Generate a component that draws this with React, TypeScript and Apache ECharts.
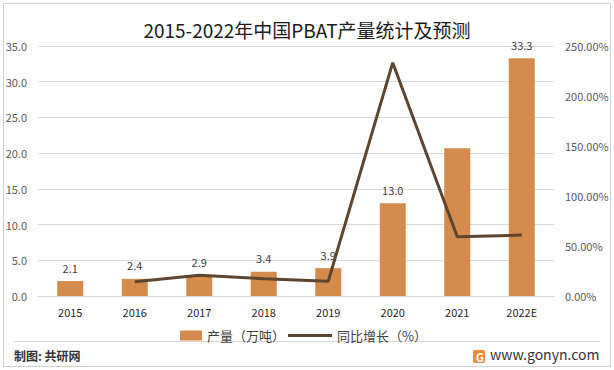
import React, { useEffect, useRef } from "react";
import * as echarts from "echarts";

const categories = ["2015", "2016", "2017", "2018", "2019", "2020", "2021", "2022E"];
const output = [2.1, 2.4, 2.9, 3.4, 3.9, 13.0, 20.7, 33.3];
const growth: (number | string)[] = ["-", 14.3, 20.8, 17.2, 14.7, 233.3, 59.2, 60.9];
const hiddenLabelIndex = [6];
const titleText = "2015-2022年中国PBAT产量统计及预测";
const legendBar = "产量（万吨）";
const legendLine = "同比增长（%）";
const sourceText = "制图: 共研网";
const siteText = "www.gonyn.com";

const FONT = "'Noto Sans CJK SC', 'Noto Sans', sans-serif";
const BAR_COLOR = "#D48B4C";
const LINE_COLOR = "#5E4530";

export default function App() {
  const ref = useRef<HTMLDivElement>(null);
  useEffect(() => {
    document.body.style.margin = "0";
    if (!ref.current) return;
    const chart = echarts.init(ref.current, null, { renderer: "svg" });
    chart.setOption({
      animation: false,
      backgroundColor: "#ffffff",
      textStyle: { fontFamily: FONT },
      title: {
        text: titleText,
        left: "center",
        top: 15,
        textStyle: { fontSize: 19, fontWeight: "normal", color: "#1a1a1a", fontFamily: FONT },
      },
      grid: { left: 38, right: 60, top: 46, bottom: 74 },
      legend: [
        {
          left: 175,
          top: 324,
          textStyle: { fontSize: 13, color: "#404040", fontFamily: FONT },
          data: [{ name: legendBar, icon: "rect", itemStyle: { color: BAR_COLOR } }],
          itemWidth: 22,
          itemHeight: 10,
          itemGap: 4,
        },
        {
          left: 283,
          top: 324,
          textStyle: { fontSize: 13, color: "#404040", fontFamily: FONT },
          data: [{ name: legendLine, icon: "rect", itemStyle: { color: LINE_COLOR } }],
          itemWidth: 44,
          itemHeight: 3,
        },
      ],
      xAxis: {
        type: "category",
        data: categories,
        axisLine: { lineStyle: { color: "#D9D9D9" } },
        axisTick: { show: false },
        axisLabel: { color: "#1f1f1f", fontSize: 11, margin: 10, fontFamily: FONT },
      },
      yAxis: [
        {
          type: "value",
          min: 0,
          max: 35,
          interval: 5,
          axisLine: { show: false },
          axisTick: { show: false },
          splitLine: { lineStyle: { color: "#D9D9D9" } },
          axisLabel: {
            color: "#595959",
            fontSize: 11,
            margin: 11,
            fontFamily: FONT,
            formatter: (v: number) => v.toFixed(1),
          },
        },
        {
          type: "value",
          min: 0,
          max: 250,
          interval: 50,
          axisLine: { show: false },
          axisTick: { show: false },
          splitLine: { show: false },
          axisLabel: {
            color: "#595959",
            fontSize: 11,
            margin: 11,
            fontFamily: FONT,
            formatter: (v: number) => v.toFixed(2) + "%",
          },
        },
      ],
      series: [
        {
          name: legendBar,
          type: "bar",
          barWidth: 26,
          yAxisIndex: 0,
          itemStyle: { color: BAR_COLOR },
          data: output.map((v, i) => ({
            value: v,
            label: { show: !hiddenLabelIndex.includes(i) },
          })),
          label: {
            show: true,
            position: "top",
            distance: 8,
            color: "#404040",
            fontSize: 11,
            fontFamily: FONT,
            formatter: (p: any) => Number(p.value).toFixed(1),
          },
        },
        {
          name: legendLine,
          type: "line",
          yAxisIndex: 1,
          data: growth,
          symbol: "none",
          z: 5,
          lineStyle: { color: LINE_COLOR, width: 3 },
          itemStyle: { color: LINE_COLOR },
        },
      ],
      graphic: [
        {
          type: "rect",
          shape: { x: 3.5, y: 3.5, width: 607, height: 363 },
          style: { fill: "none", stroke: "#D0D0D0", lineWidth: 1 },
          silent: true,
        },
        {
          type: "line",
          shape: { x1: 14, y1: 341.5, x2: 600, y2: 341.5 },
          style: { stroke: "#D9D9D9", lineWidth: 1 },
          silent: true,
        },
        {
          type: "text",
          left: 14,
          top: 349,
          style: { text: sourceText, fontSize: 12, fill: "#333333", fontFamily: FONT, fontWeight: "bold" },
        },
        {
          type: "rect",
          shape: { x: 473, y: 350, width: 12, height: 13, r: 2 },
          style: { fill: "#F08A3C" },
        },
        {
          type: "text",
          x: 476,
          y: 351,
          style: { text: "G", fontSize: 11, fontWeight: "bold", fill: "#ffffff", fontFamily: FONT },
        },
        {
          type: "text",
          left: 490,
          top: 347,
          style: { text: siteText, fontSize: 14, fill: "#333333", fontFamily: FONT },
        },
      ],
    });
    return () => chart.dispose();
  }, []);
  return <div ref={ref} style={{ width: 614, height: 370 }} />;
}
